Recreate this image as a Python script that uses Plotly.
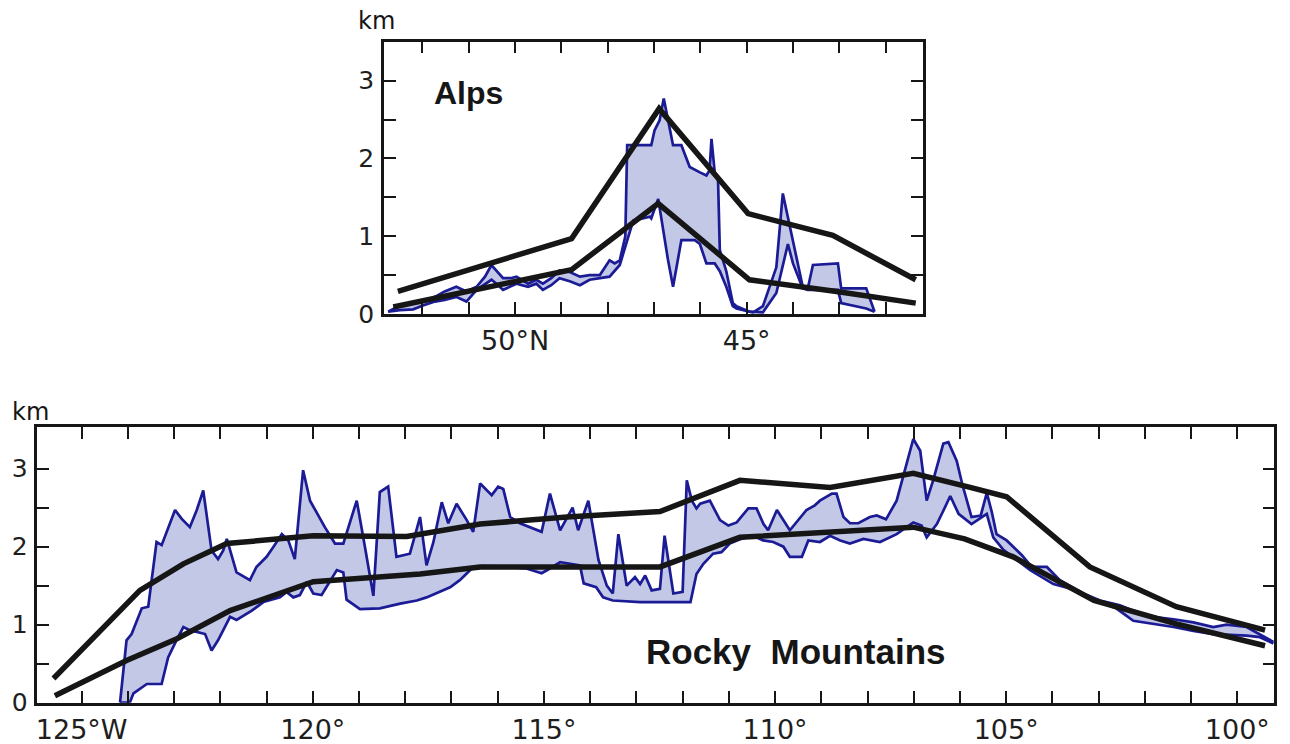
import plotly.graph_objects as go

# ---------------- Alps (latitude °N, elevation km) ----------------
alps_up_lat = [52.74, 52.49, 52.20, 51.99, 51.73, 51.52, 51.27, 51.05, 50.83, 50.65, 50.51, 50.26,
               50.10, 49.97, 49.72, 49.54, 49.40, 49.22, 49.04, 48.82, 48.60, 48.39, 48.17, 47.96,
               47.85, 47.74, 47.62, 47.58, 47.06, 46.99, 46.88, 46.79, 46.70, 46.59, 46.41, 46.23,
               46.01, 45.87, 45.80, 45.76, 45.69, 45.62, 45.58, 45.44, 45.30, 45.22, 44.94, 44.86,
               44.65, 44.36, 44.22, 44.11, 43.79, 43.68, 43.57, 43.03, 42.96, 42.42, 42.24]
alps_up_km = [0.03, 0.11, 0.14, 0.16, 0.22, 0.29, 0.35, 0.29, 0.35, 0.48, 0.63, 0.46,
              0.46, 0.48, 0.39, 0.44, 0.39, 0.46, 0.56, 0.54, 0.48, 0.50, 0.50, 0.69,
              0.65, 0.69, 1.00, 2.17, 2.17, 2.36, 2.49, 2.77, 2.50, 2.17, 2.17, 1.89,
              1.82, 1.78, 1.85, 2.25, 1.82, 1.76, 0.82, 0.55, 0.14, 0.10, 0.03, 0.02,
              0.10, 0.60, 1.55, 1.25, 0.35, 0.33, 0.63, 0.65, 0.33, 0.33, 0.03]

alps_lo_lat = [52.74, 52.49, 52.20, 51.99, 51.73, 51.52, 51.27, 51.05, 50.83, 50.51, 50.40, 50.26,
               49.97, 49.72, 49.54, 49.40, 49.22, 49.04, 48.82, 48.60, 48.39, 48.17, 47.96, 47.74,
               47.60, 47.45, 47.09, 47.06, 46.91, 46.84, 46.70, 46.59, 46.41, 46.12, 46.01, 45.87,
               45.69, 45.58, 45.44, 45.30, 45.22, 44.94, 44.65, 44.36, 44.11, 44.00, 43.79, 43.68,
               43.03, 42.96, 42.42, 42.24]
alps_lo_km = [0.03, 0.05, 0.06, 0.11, 0.16, 0.18, 0.22, 0.16, 0.31, 0.44, 0.39, 0.31,
              0.39, 0.35, 0.39, 0.31, 0.37, 0.46, 0.42, 0.37, 0.44, 0.46, 0.48, 0.63,
              0.90, 1.20, 1.25, 1.23, 1.48, 1.20, 0.70, 0.35, 0.95, 0.95, 0.90, 0.65,
              0.65, 0.55, 0.35, 0.10, 0.07, 0.03, 0.02, 0.27, 0.90, 0.65, 0.33, 0.31,
              0.31, 0.14, 0.07, 0.03]

alps_env_hi_lat = [52.53, 48.78, 46.89, 44.97, 43.14, 41.35]
alps_env_hi_km = [0.29, 0.97, 2.64, 1.29, 1.01, 0.44]
alps_env_lo_lat = [52.63, 48.78, 46.91, 44.94, 43.06, 41.35]
alps_env_lo_km = [0.09, 0.57, 1.42, 0.44, 0.29, 0.14]

alps_tick_lat = [52, 51, 50, 49, 48, 47, 46, 45, 44, 43, 42]
alps_tick_text = ["", "", "50°N", "", "", "", "", "45°", "", "", ""]

# ---------------- Rocky Mountains (longitude °W, elevation km) ----------------
rk_up_lon = [124.17, 124.03, 123.92, 123.70, 123.56, 123.38, 123.27, 123.12, 122.98, 122.84,
             122.66, 122.51, 122.37, 122.19, 122.05, 121.94, 121.86, 121.65, 121.36, 121.22,
             121.00, 120.85, 120.67, 120.53, 120.39, 120.21, 120.06, 119.74, 119.52, 119.34,
             119.05, 118.87, 118.69, 118.55, 118.37, 118.19, 117.90, 117.68, 117.54, 117.39,
             117.21, 117.07, 116.89, 116.67, 116.53, 116.38, 116.13, 115.99, 115.88, 115.73,
             115.52, 115.05, 114.87, 114.65, 114.38, 114.26, 114.04, 113.82, 113.64, 113.51,
             113.39, 113.21, 113.03, 112.92, 112.81, 112.67, 112.49, 112.39, 112.20, 112.00,
             111.91, 111.80, 111.70, 111.62, 111.41, 111.19, 111.01, 110.83, 110.58, 110.40,
             110.25, 110.15, 109.96, 109.68, 109.32, 109.14, 109.03, 108.77, 108.67, 108.52,
             108.38, 108.20, 107.95, 107.80, 107.60, 107.37, 107.15, 107.01, 106.86, 106.72,
             106.58, 106.36, 106.25, 106.07, 105.95, 105.75, 105.55, 105.42, 105.31, 105.21,
             104.99, 104.66, 104.45, 104.12, 103.84, 103.33, 102.97, 102.54, 102.25, 101.82,
             101.38, 100.95, 100.52, 100.23, 99.80, 99.51, 99.22]
rk_up_km = [0.00, 0.80, 0.88, 1.21, 1.23, 2.06, 2.02, 2.25, 2.47, 2.36,
            2.25, 2.47, 2.72, 1.95, 1.84, 1.95, 2.10, 1.67, 1.57, 1.74,
            1.87, 2.00, 2.16, 2.08, 1.84, 2.98, 2.59, 2.25, 2.04, 2.04,
            2.59, 1.99, 1.37, 2.70, 2.77, 1.87, 1.91, 2.38, 1.76, 2.06,
            2.57, 2.30, 2.55, 2.34, 2.19, 2.81, 2.66, 2.77, 2.74, 2.38,
            2.30, 2.19, 2.68, 2.21, 2.50, 2.21, 2.59, 1.83, 1.50, 1.40,
            2.16, 1.50, 1.61, 1.52, 1.63, 1.44, 1.46, 2.14, 1.40, 1.42,
            2.85, 2.59, 2.49, 2.55, 2.59, 2.34, 2.27, 2.31, 2.49, 2.49,
            2.29, 2.21, 2.47, 2.21, 2.47, 2.53, 2.59, 2.68, 2.68, 2.38,
            2.30, 2.30, 2.38, 2.40, 2.35, 2.59, 3.06, 3.38, 3.23, 2.59,
            2.85, 3.32, 3.34, 3.10, 2.80, 2.38, 2.40, 2.69, 2.44, 2.16,
            2.08, 1.89, 1.74, 1.74, 1.57, 1.40, 1.31, 1.25, 1.18, 1.10,
            1.07, 1.03, 0.97, 1.00, 0.97, 0.88, 0.78]

rk_lo_lon = [124.17, 123.96, 123.88, 123.59, 123.27, 123.13, 122.95, 122.80, 122.66, 122.33,
             122.19, 122.05, 121.79, 121.65, 121.32, 121.07, 120.71, 120.57, 120.42, 120.28,
             120.13, 119.99, 119.81, 119.48, 119.34, 119.27, 118.98, 118.55, 118.11, 117.75,
             117.54, 117.03, 116.82, 116.56, 116.31, 115.81, 115.38, 115.05, 114.87, 114.65,
             114.22, 114.14, 113.87, 113.72, 113.51, 112.92, 112.49, 111.83, 111.70, 111.55,
             111.34, 111.16, 110.98, 110.73, 110.47, 110.26, 110.04, 109.82, 109.68, 109.42,
             109.28, 109.03, 108.81, 108.59, 108.38, 108.09, 107.73, 107.37, 107.01, 106.83,
             106.72, 106.50, 106.36, 106.21, 106.03, 105.89, 105.75, 105.42, 105.28, 105.06,
             104.77, 104.48, 103.98, 103.60, 103.33, 102.97, 102.62, 102.25, 101.82, 101.38,
             100.95, 100.52, 99.80, 99.51, 99.22]
rk_lo_km = [0.00, 0.00, 0.12, 0.24, 0.24, 0.58, 0.80, 0.97, 0.93, 0.88,
            0.67, 0.80, 1.10, 1.06, 1.18, 1.29, 1.35, 1.42, 1.35, 1.38,
            1.55, 1.40, 1.38, 1.70, 1.67, 1.32, 1.20, 1.21, 1.27, 1.31,
            1.35, 1.48, 1.57, 1.72, 1.75, 1.74, 1.72, 1.66, 1.72, 1.80,
            1.76, 1.53, 1.48, 1.35, 1.31, 1.29, 1.29, 1.29, 1.65, 1.78,
            1.91, 1.93, 2.04, 2.10, 2.14, 2.08, 2.06, 2.00, 1.87, 1.87,
            2.08, 2.06, 2.14, 2.08, 2.04, 2.10, 2.06, 2.16, 2.31, 2.27,
            2.12, 2.29, 2.46, 2.65, 2.42, 2.35, 2.29, 2.42, 2.12, 1.96,
            1.83, 1.70, 1.52, 1.46, 1.38, 1.29, 1.21, 1.05, 1.01, 0.97,
            0.92, 0.88, 0.86, 0.84, 0.76]

rk_env_hi_lon = [125.61, 123.74, 122.80, 121.86, 119.99, 117.97, 116.38, 114.50, 112.49,
                 110.76, 108.81, 107.01, 105.78, 104.99, 103.19, 101.32, 99.40]
rk_env_hi_km = [0.31, 1.44, 1.78, 2.04, 2.14, 2.13, 2.29, 2.38, 2.45,
                2.85, 2.76, 2.94, 2.76, 2.64, 1.74, 1.23, 0.93]
rk_env_lo_lon = [125.58, 124.03, 122.94, 121.79, 119.99, 117.68, 116.38, 112.49, 110.76,
                 107.01, 105.90, 104.85, 103.10, 101.32, 99.40]
rk_env_lo_km = [0.09, 0.54, 0.82, 1.18, 1.55, 1.65, 1.74, 1.74, 2.12,
                2.25, 2.10, 1.87, 1.31, 1.01, 0.73]

rk_tick_lon = list(range(125, 99, -1))
rk_tick_text = ["125°W" if v == 125 else (f"{v}°" if v % 5 == 0 else "") for v in rk_tick_lon]

km_tickvals = [0, 0.5, 1, 1.5, 2, 2.5, 3]
km_ticktext = ["0", "", "1", "", "2", "", "3"]

# ---------------- styling ----------------
W, H = 1290, 744
BLUE = "#1b1b95"
FILL = "#c2c8e6"
BLACK = "#161616"
TICKFONT = "DejaVu Sans"
TITLEFONT = "Liberation Sans"

fig = go.Figure()


def add_panel(fig, xa, ya, lo_x, lo_y, up_x, up_y, e1x, e1y, e2x, e2y):
    fig.add_trace(go.Scatter(x=lo_x, y=lo_y, mode="lines", line=dict(color=BLUE, width=2.7),
                             xaxis=xa, yaxis=ya, showlegend=False, hoverinfo="skip"))
    fig.add_trace(go.Scatter(x=up_x, y=up_y, mode="lines", line=dict(color=BLUE, width=2.7),
                             fill="tonexty", fillcolor=FILL,
                             xaxis=xa, yaxis=ya, showlegend=False, hoverinfo="skip"))
    for ex, ey in ((e1x, e1y), (e2x, e2y)):
        fig.add_trace(go.Scatter(x=ex, y=ey, mode="lines", line=dict(color=BLACK, width=5.5),
                                 xaxis=xa, yaxis=ya, showlegend=False, hoverinfo="skip"))


add_panel(fig, "x", "y", alps_lo_lat, alps_lo_km, alps_up_lat, alps_up_km,
          alps_env_hi_lat, alps_env_hi_km, alps_env_lo_lat, alps_env_lo_km)
add_panel(fig, "x2", "y2", rk_lo_lon, rk_lo_km, rk_up_lon, rk_up_km,
          rk_env_hi_lon, rk_env_hi_km, rk_env_lo_lon, rk_env_lo_km)


def axis_common(size, standoff):
    return dict(ticks="inside", ticklen=12, tickwidth=2, tickcolor=BLACK,
                showline=True, linecolor=BLACK, linewidth=2.5, mirror="ticks",
                showgrid=False, zeroline=False, automargin=False,
                ticklabelstandoff=standoff,
                tickfont=dict(family=TICKFONT, size=size, color="#1e1e1e"))


alps_x = dict(domain=[384 / W, 922.7 / W], range=[52.83, 41.2], tickmode="array",
              tickvals=alps_tick_lat, ticktext=alps_tick_text, anchor="y", **axis_common(27, 1))
alps_y = dict(domain=[1 - 314 / H, 1 - 41.7 / H], range=[0, 3.5], tickmode="array",
              tickvals=km_tickvals, ticktext=km_ticktext, anchor="x", **axis_common(25, 2))
rk_x = dict(domain=[37.3 / W, 1274.3 / W], range=[125.96, 99.2], tickmode="array",
            tickvals=rk_tick_lon, ticktext=rk_tick_text, anchor="y2", **axis_common(27, 1))
rk_y = dict(domain=[1 - 702.7 / H, 1 - 427.3 / H], range=[0, 3.53], tickmode="array",
            tickvals=km_tickvals, ticktext=km_ticktext, anchor="x2", **axis_common(25, 2))


def note(text, px, py, size, family):
    return dict(text=text, x=px / W, y=1 - py / H, xref="paper", yref="paper",
                xanchor="center", yanchor="middle", showarrow=False,
                font=dict(family=family, size=size, color="#161616"))


ann = [
    note("km", 376, 21, 24, TICKFONT),
    note("km", 30, 412, 24, TICKFONT),
    note("<b>Alps</b>", 468, 93, 32, TITLEFONT),
    note("<b>Rocky  Mountains</b>", 795, 651, 35, TITLEFONT),
]

fig.update_layout(width=W, height=H, margin=dict(l=0, r=0, t=0, b=0, autoexpand=False),
                  paper_bgcolor="white", plot_bgcolor="white",
                  xaxis=alps_x, yaxis=alps_y, xaxis2=rk_x, yaxis2=rk_y,
                  annotations=ann, showlegend=False)

fig.write_html("out.html")
